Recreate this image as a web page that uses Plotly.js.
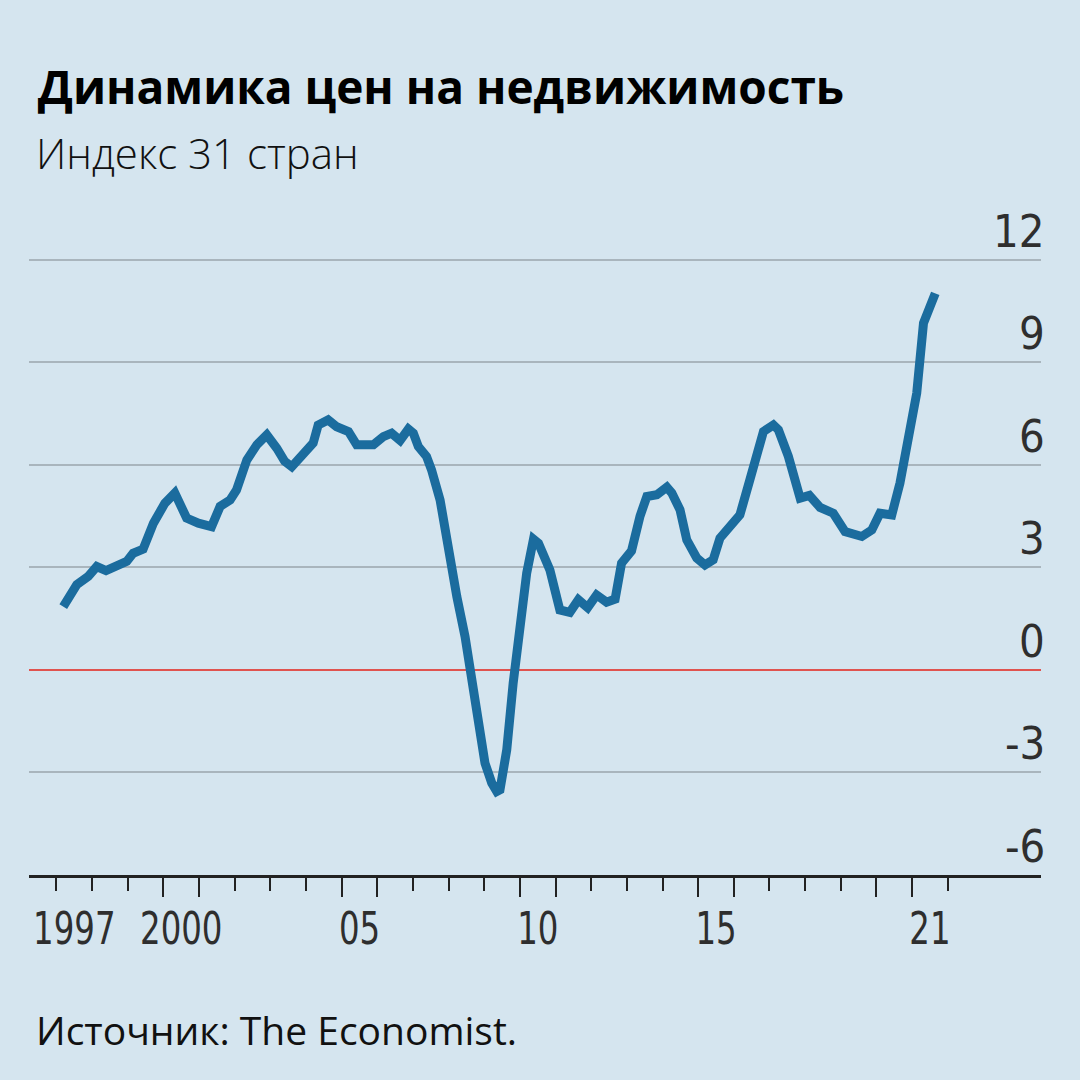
<!DOCTYPE html>
<html><head><meta charset="utf-8">
<script src="https://cdn.plot.ly/plotly-3.0.1.min.js"></script>
<style>html,body{margin:0;padding:0;background:#d5e5ef}</style>
</head><body><div id="chart" style="width:1080px;height:1080px"></div>
<script>
// Data (decimal years)
const dates = [1997.19,1997.40,1997.57,1997.89,1998.13,1998.39,1998.73,1998.97,1999.15,1999.43,1999.72,
  2000.04,2000.32,2000.46,2000.65,2000.98,2001.35,2001.59,2001.87,2002.05,2002.34,2002.62,2002.90,
  2003.18,2003.40,2003.60,2003.92,2004.20,2004.34,2004.62,2004.86,2005.19,2005.42,2005.89,2006.17,
  2006.40,2006.64,2006.87,2007.01,2007.15,2007.38,2007.52,2007.76,2007.99,2008.23,2008.46,2008.69,
  2008.88,2009.02,2009.21,2009.35,2009.44,2009.63,2009.81,2010.05,2010.19,2010.38,2010.52,2010.84,
  2011.12,2011.40,2011.64,2011.90,2012.15,2012.43,2012.67,2012.85,2013.13,2013.37,2013.56,2013.84,
  2014.12,2014.26,2014.49,2014.68,2014.96,2015.19,2015.42,2015.61,2015.84,2016.17,2016.45,2016.83,
  2017.11,2017.25,2017.53,2017.86,2018.12,2018.42,2018.79,2019.12,2019.59,2019.87,2020.10,2020.43,
  2020.66,2020.90,2021.13,2021.32,2021.65];
const index = [1.85,2.20,2.49,2.73,3.02,2.90,3.04,3.17,3.41,3.53,4.29,
  4.87,5.17,4.87,4.44,4.29,4.19,4.78,4.97,5.26,6.14,6.58,6.87,
  6.48,6.10,5.94,6.29,6.63,7.16,7.31,7.11,6.97,6.58,6.58,6.82,
  6.92,6.71,7.04,6.92,6.53,6.24,5.85,4.97,3.51,2.14,0.97,-0.58,
  -1.85,-2.73,-3.31,-3.56,-3.51,-2.34,-0.39,1.56,2.83,3.82,3.70,2.92,
  1.75,1.68,2.05,1.82,2.19,1.98,2.07,3.12,3.48,4.50,5.07,5.12,
  5.34,5.17,4.68,3.80,3.27,3.07,3.22,3.85,4.14,4.53,5.56,6.97,
  7.16,7.02,6.24,5.02,5.10,4.75,4.58,4.04,3.90,4.09,4.58,4.53,
  5.46,6.92,8.09,10.14,11.01];

const yTickVals = [12, 9, 6, 3, 0, -3, -6];
const yTickText = ['12', '9', '6', '3', '0', '-3', '-6'];
const yearTicks = [1997,1998,1999,2000,2001,2002,2003,2004,2005,2006,2007,2008,2009,
  2010,2011,2012,2013,2014,2015,2016,2017,2018,2019,2020,2021,2022];
const longTickYears = [2000, 2001, 2005, 2006, 2010, 2011, 2015, 2016, 2020, 2021];
const xLabelYears = [1997, 2000, 2005, 2010, 2015, 2021];
const xLabelText = ['1997', '2000', '05', '10', '15', '21'];

const titleText = 'Динамика цен на недвижимость';
const subtitleText = 'Индекс 31 стран';
const sourceText = 'Источник: The Economist.';

const BG = '#d5e5ef';
const NARROW = '"Liberation Sans Narrow", "DejaVu Sans Condensed", "Arial Narrow", sans-serif';
const XR = [1996.229, 2024.616];

const shortTicks = yearTicks.filter(y => !longTickYears.includes(y));

const traces = [
  {x: dates, y: index, type: 'scatter', mode: 'lines',
   line: {color: '#1b6c9e', width: 9}, hoverinfo: 'skip', showlegend: false},
  {x: [], y: [], xaxis: 'x2', yaxis: 'y', type: 'scatter', mode: 'markers', showlegend: false}
];

const annotations = yTickVals.map((v, i) => ({
  xref: 'paper', x: 1, xanchor: 'right', xshift: 6, yref: 'y', y: v, yanchor: 'bottom', yshift: 0,
  text: yTickText[i], showarrow: false,
  font: {family: NARROW, size: 45, color: '#2e2e2e'}
}));
annotations.push({
  xref: 'paper', x: 0.005, xanchor: 'left', yref: 'paper', y: 1.136, yanchor: 'middle',
  text: subtitleText, showarrow: false,
  font: {family: '"Open Sans", "Noto Sans", sans-serif', size: 42, color: '#111', weight: 300}
});
annotations.push({
  xref: 'paper', x: 0.005, xanchor: 'left', yref: 'paper', y: -0.243, yanchor: 'middle',
  text: sourceText, showarrow: false,
  font: {family: '"Open Sans", "Noto Sans", sans-serif', size: 39, color: '#111', weight: 400}
});

const layout = {
  width: 1080, height: 1080,
  paper_bgcolor: BG, plot_bgcolor: BG,
  margin: {l: 29, r: 39, t: 239, b: 205},
  showlegend: false, hovermode: false,
  title: {text: titleText, xref: 'container', yref: 'container', x: 0.035, xanchor: 'left',
          y: 1 - 88/1080, yanchor: 'middle',
          font: {family: '"Open Sans", "Noto Sans", sans-serif', size: 46, color: '#000', weight: 700}},
  xaxis: {
    range: XR, showgrid: false, zeroline: false,
    showline: true, linecolor: '#222', linewidth: 2.5,
    tickmode: 'array', tickvals: longTickYears, ticks: 'outside', ticklen: 19, tickwidth: 2, tickcolor: '#222',
    showticklabels: false,
    minor: {tickmode: 'array', tickvals: shortTicks, ticks: 'outside', ticklen: 13, tickwidth: 2, tickcolor: '#222', showgrid: false}
  },
  xaxis2: {
    overlaying: 'x', anchor: 'y', side: 'bottom', range: XR,
    showgrid: false, zeroline: false, showline: false,
    tickmode: 'array', tickvals: xLabelYears.map(y => y + 0.5), ticktext: xLabelText,
    tickangle: 0,
    ticks: 'outside', ticklen: 14, tickcolor: 'rgba(0,0,0,0)',
    tickfont: {family: NARROW, size: 45, color: '#2e2e2e'}
  },
  yaxis: {
    range: [-6, 12.6], showticklabels: false, ticks: '',
    tickmode: 'array', tickvals: yTickVals,
    showgrid: true, gridcolor: '#a9b5bd', gridwidth: 2,
    zeroline: true, zerolinecolor: '#e0534f', zerolinewidth: 2.5,
    showline: false
  },
  annotations: annotations
};

Plotly.newPlot('chart', traces, layout, {staticPlot: true, displayModeBar: false}).then(gd => {
  // no narrow font installed: condense the year labels horizontally around their centres
  gd.querySelectorAll('.x2tick text').forEach(t => {
    const tr = t.getAttribute('transform') || '';
    const x = parseFloat(t.getAttribute('x') || '0');
    t.setAttribute('transform', tr + ' translate(' + x + ',0) scale(0.8,1) translate(' + (-x) + ',0)');
  });
});
</script></body></html>
